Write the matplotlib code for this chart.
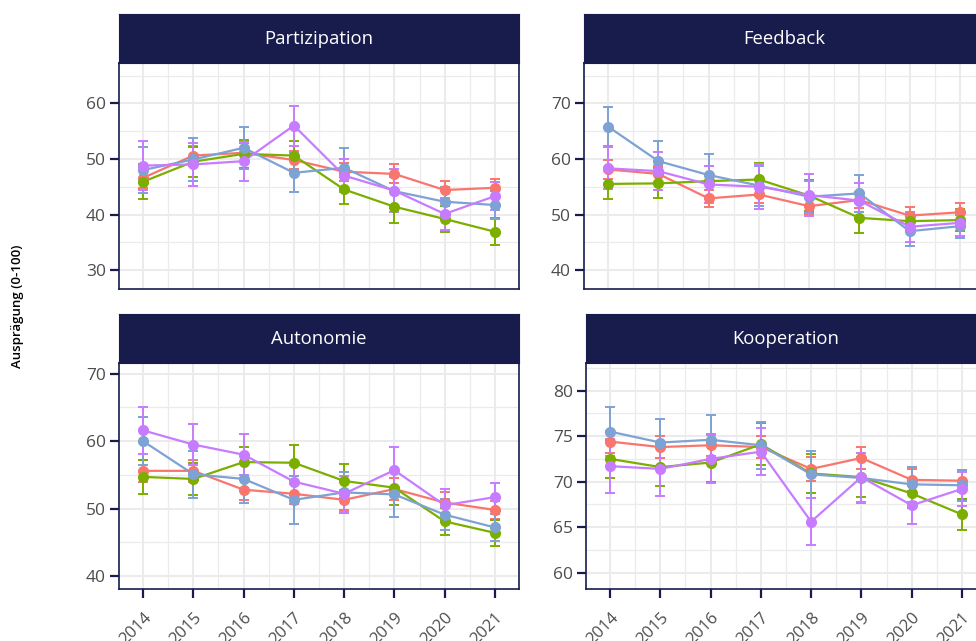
import matplotlib
matplotlib.use("Agg")
import matplotlib.pyplot as plt
import numpy as np

plt.rcParams["font.family"] = ["Open Sans", "DejaVu Sans"]

NAVY = "#171C4D"
GRID = "#EBEBEB"
TICK_TXT = "#4D4D4D"
COLORS = ["#F8766D", "#7CAE00", "#7DA2D3", "#C77CFF"]

years = [2014, 2015, 2016, 2017, 2018, 2019, 2020, 2021]
panel_titles = ["Partizipation", "Feedback", "Autonomie", "Kooperation"]

# means per group (red, green, blue, purple) and half-widths of the error bars
partizipation_mean = [
    [46.6, 50.6, 51.1, 49.8, 47.7, 47.3, 44.4, 44.8],
    [45.9, 49.5, 50.9, 50.6, 44.5, 41.4, 39.2, 36.9],
    [48.0, 49.9, 52.0, 47.5, 48.4, 44.2, 42.3, 41.7],
    [48.8, 49.0, 49.6, 56.0, 47.0, 44.3, 40.1, 43.3],
]
partizipation_err = [
    [1.9, 1.8, 1.7, 1.6, 1.6, 1.7, 1.6, 1.6],
    [3.1, 2.7, 2.5, 2.7, 2.7, 2.9, 2.3, 2.4],
    [4.2, 3.9, 3.8, 3.5, 3.6, 2.6, 2.6, 2.5],
    [4.4, 3.8, 3.5, 3.6, 3.0, 3.8, 2.8, 2.5],
]
feedback_mean = [
    [58.1, 57.3, 52.9, 53.6, 51.5, 52.6, 49.8, 50.4],
    [55.5, 55.6, 56.0, 56.3, 53.4, 49.4, 48.8, 49.0],
    [65.8, 59.6, 57.1, 55.2, 53.2, 53.8, 47.0, 47.9],
    [58.3, 57.8, 55.4, 55.0, 53.5, 52.5, 47.8, 48.5],
]
feedback_err = [
    [1.7, 1.5, 1.5, 1.5, 1.4, 1.4, 1.5, 1.7],
    [2.8, 2.7, 2.7, 2.9, 2.8, 2.7, 1.6, 1.9],
    [3.5, 3.7, 3.8, 3.6, 2.9, 3.3, 2.6, 2.1],
    [3.8, 3.4, 3.4, 4.0, 3.7, 3.2, 2.7, 2.3],
]
autonomie_mean = [
    [55.6, 55.6, 52.8, 52.2, 51.3, 52.9, 50.9, 49.8],
    [54.7, 54.4, 56.9, 56.8, 54.1, 53.1, 48.1, 46.4],
    [60.0, 55.1, 54.4, 51.3, 52.4, 52.1, 49.1, 47.2],
    [61.6, 59.5, 58.0, 54.0, 52.2, 55.7, 50.5, 51.7],
]
autonomie_err = [
    [1.6, 1.6, 1.5, 1.5, 1.5, 1.6, 1.5, 1.4],
    [2.5, 2.4, 2.3, 2.6, 2.5, 2.5, 2.0, 1.9],
    [3.6, 3.5, 3.5, 3.6, 3.1, 3.3, 2.3, 2.0],
    [3.5, 3.0, 3.0, 2.5, 2.7, 3.4, 2.4, 2.1],
]
kooperation_mean = [
    [74.4, 73.8, 74.0, 73.8, 71.4, 72.6, 70.2, 70.1],
    [72.5, 71.6, 72.1, 74.1, 70.9, 70.5, 68.7, 66.4],
    [75.5, 74.3, 74.6, 74.0, 70.8, 70.4, 69.7, 69.6],
    [71.7, 71.4, 72.5, 73.3, 65.6, 70.5, 67.4, 69.2],
]
kooperation_err = [
    [1.2, 1.2, 1.2, 1.2, 1.3, 1.2, 1.2, 1.2],
    [2.1, 2.1, 2.1, 2.3, 2.1, 2.2, 1.6, 1.7],
    [2.7, 2.6, 2.7, 2.6, 2.6, 2.7, 1.9, 1.7],
    [3.0, 3.0, 2.6, 2.6, 2.6, 2.7, 2.1, 1.9],
]

means = [partizipation_mean, feedback_mean, autonomie_mean, kooperation_mean]
errs = [partizipation_err, feedback_err, autonomie_err, kooperation_err]
ylims = [(26.6, 67.25), (36.6, 77.25), (38.07, 71.6), (58.2, 83.04)]
yticks = [[30, 40, 50, 60], [40, 50, 60, 70], [40, 50, 60, 70], [60, 65, 70, 75, 80]]

W, H = 976, 641
fig = plt.figure(figsize=(W / 100, H / 100), dpi=100)

# panel boxes in pixels: (left, top of plot area, width, height)
lefts = [119, 584, 119, 586]
tops = [63, 63, 363, 363]
pw, ph, strip_h = 400, 226, 49

for i, title in enumerate(panel_titles):
    l, t = lefts[i], tops[i]
    ax = fig.add_axes([l / W, 1 - (t + ph) / H, pw / W, ph / H])
    sax = fig.add_axes([l / W, 1 - t / H, pw / W, strip_h / H])
    sax.set_facecolor(NAVY)
    sax.set_xticks([])
    sax.set_yticks([])
    for s in sax.spines.values():
        s.set_color(NAVY)
    sax.text(0.5, 0.5, title, color="white", fontsize=13.3,
             ha="center", va="center", transform=sax.transAxes)

    ax.set_xticks(years)
    ax.set_xticks(np.arange(years[0] - 0.5, years[-1] + 1, 1), minor=True)
    yt = yticks[i]
    step = yt[1] - yt[0]
    ax.set_yticks(yt)
    ax.set_yticks(np.arange(yt[0] - step / 2, yt[-1] + step, step), minor=True)
    # limits after the ticks, otherwise set_ticks widens them
    ax.set_xlim(years[0] - 0.48, years[-1] + 0.48)
    ax.set_ylim(*ylims[i])
    ax.grid(True, which="major", color=GRID, lw=1.5, zorder=0)
    ax.grid(True, which="minor", color=GRID, lw=0.9, zorder=0)
    ax.set_axisbelow(True)
    for s in ax.spines.values():
        s.set_color(NAVY)
        s.set_linewidth(1.2)

    ax.tick_params(which="minor", length=0)
    ax.tick_params(axis="y", which="major", length=6.5, width=1.6, color=NAVY,
                   labelsize=12.5, labelcolor=TICK_TXT, pad=3)
    if i < 2:
        ax.tick_params(axis="x", which="major", length=0, labelbottom=False)
    else:
        ax.tick_params(axis="x", which="major", length=6.5, width=1.6, color=NAVY,
                       labelsize=12, labelcolor=TICK_TXT, pad=8.5)
        for lab in ax.get_xticklabels():
            lab.set_rotation(45)
            lab.set_ha("right")
            lab.set_va("top")
            lab.set_rotation_mode("anchor")

    m, e = means[i], errs[i]
    for g in range(4):
        ax.errorbar(years, m[g], yerr=e[g], fmt="none", ecolor=COLORS[g],
                    elinewidth=1.4, capsize=3.5, capthick=1.4, zorder=2)
    for g in range(4):
        ax.plot(years, m[g], color=COLORS[g], lw=1.6, zorder=3)
    for g in range(4):
        ax.plot(years, m[g], "o", color=COLORS[g], ms=7, zorder=4)

fig.text(0.0184, 0.5226, "Ausprägung (0-100)", rotation=90, ha="center",
         va="center", fontsize=9.5, fontweight="semibold", color="black")

fig.savefig("out.png", dpi=100)
